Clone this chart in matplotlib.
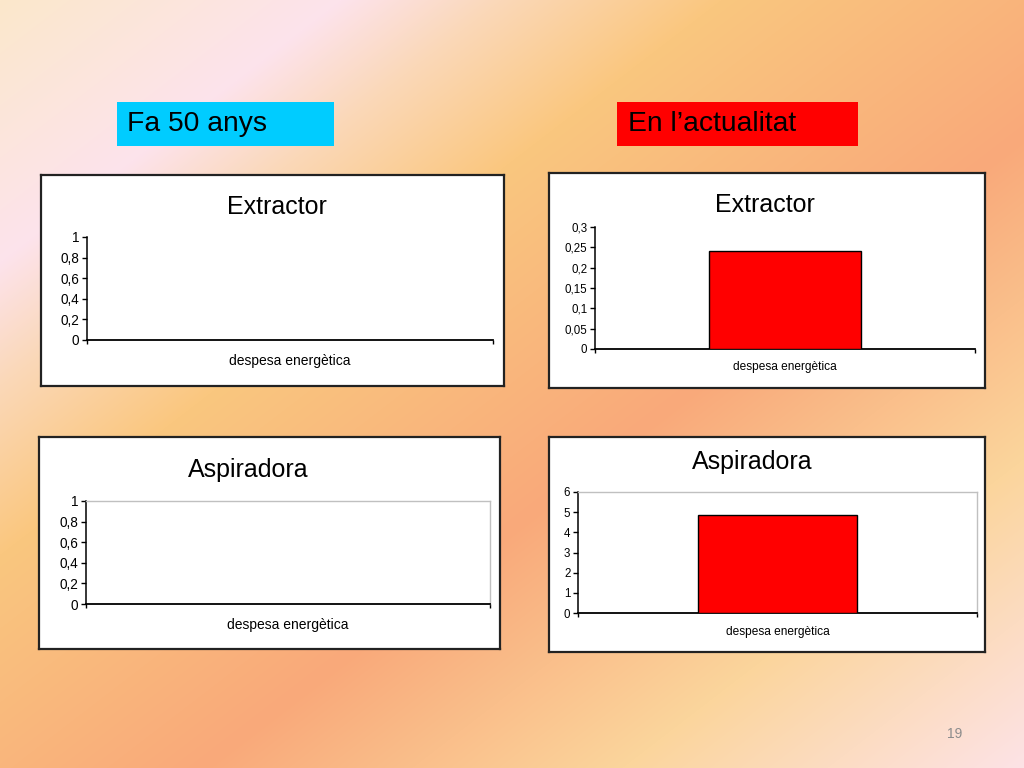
import numpy as np
import matplotlib
matplotlib.use("Agg")
import matplotlib.pyplot as plt
from matplotlib.patches import Rectangle
from matplotlib.ticker import FuncFormatter, FixedLocator
from matplotlib.colors import to_rgb

plt.rcParams['font.family'] = ['Liberation Sans', 'DejaVu Sans']

# ---------------- data ----------------
categories = ['despesa energètica']
headers = ['Fa 50 anys', 'En l\u2019actualitat']
chart_titles = ['Extractor', 'Extractor', 'Aspiradora', 'Aspiradora']
extractor_fa50 = [0]
extractor_actual = [0.24]
aspiradora_fa50 = [0]
aspiradora_actual = [4.85]
yticks_extractor_fa50 = [0, 0.2, 0.4, 0.6, 0.8, 1]
yticks_extractor_actual = [0, 0.05, 0.1, 0.15, 0.2, 0.25, 0.3]
yticks_aspiradora_fa50 = [0, 0.2, 0.4, 0.6, 0.8, 1]
yticks_aspiradora_actual = [0, 1, 2, 3, 4, 5, 6]
page_number = '19'

W, H = 1024, 768
fig = plt.figure(figsize=(W / 100, H / 100), dpi=100)


def rect(x0, y0, x1, y1):
    return [x0 / W, 1 - y1 / H, (x1 - x0) / W, (y1 - y0) / H]


# ---------------- background gradient ----------------
bg = fig.add_axes([0, 0, 1, 1], zorder=-10)
X, Y = np.meshgrid(np.arange(W), np.arange(H))
t = X + 1.3 * Y
stops = [0, 340, 500, 720, 1200, 1620, 2030]
cols = ['#FBE8CB', '#FDE3EC', '#FAD8B8', '#FAC77F', '#F9A97A', '#FBD59C', '#FDE3E8']
rgb = np.array([to_rgb(c) for c in cols])
img = np.dstack([np.interp(t, stops, rgb[:, k]) for k in range(3)])
bg.imshow(img, extent=[0, W, H, 0], aspect='auto', interpolation='bilinear')
bg.set_xlim(0, W)
bg.set_ylim(H, 0)
bg.axis('off')

# ---------------- header boxes ----------------
header_boxes = [((117, 102, 334, 146), '#00CCFF', 127),
                ((617, 102, 858, 146), '#FF0000', 628)]
for (box, color, tx), label in zip(header_boxes, headers):
    x0, y0, x1, y1 = box
    fig.add_artist(Rectangle((x0 / W, 1 - y1 / H), (x1 - x0) / W, (y1 - y0) / H,
                             transform=fig.transFigure, facecolor=color,
                             edgecolor='none', zorder=1))
    fig.text(tx / W, 1 - ((y0 + y1) / 2) / H, label, ha='left', va='center',
             fontsize=20.3, color='black', zorder=2)

# ---------------- charts ----------------
fmt = FuncFormatter(lambda v, p: ('%g' % v).replace('.', ','))

charts = [
    dict(frame=(41, 175, 504, 386), plot=(87, 237, 493, 340), title=(277, 207),
         values=extractor_fa50, yticks=yticks_extractor_fa50, gray=False,
         fs=9.8, xfs=10, pad=10),
    dict(frame=(549, 173, 985, 388), plot=(595, 227, 975, 349), title=(765, 205),
         values=extractor_actual, yticks=yticks_extractor_actual, gray=False,
         fs=8.3, xfs=8.6, pad=9),
    dict(frame=(39, 437, 500, 649), plot=(86, 501, 490, 604), title=(248, 470),
         values=aspiradora_fa50, yticks=yticks_aspiradora_fa50, gray=True,
         fs=9.8, xfs=10, pad=10),
    dict(frame=(549, 437, 985, 652), plot=(578, 492, 977, 613), title=(752, 462),
         values=aspiradora_actual, yticks=yticks_aspiradora_actual, gray=True,
         fs=8.3, xfs=8.6, pad=9),
]

for c, title in zip(charts, chart_titles):
    fr = fig.add_axes(rect(*c['frame']), zorder=3)
    fr.set_facecolor('white')
    fr.set_xticks([])
    fr.set_yticks([])
    for s in fr.spines.values():
        s.set_color('#222222')
        s.set_linewidth(1.6)

    ax = fig.add_axes(rect(*c['plot']), zorder=4)
    ax.patch.set_alpha(0)
    x = np.arange(len(categories))
    vals = np.array(c['values'], dtype=float)
    ax.bar(x, vals, width=0.40, color='#FF0000',
           edgecolor=['black' if v > 0 else 'none' for v in vals], linewidth=1.0, zorder=3)
    ax.set_xlim(-0.5, len(categories) - 0.5)
    ax.set_ylim(c['yticks'][0], c['yticks'][-1])
    ax.yaxis.set_major_locator(FixedLocator(c['yticks']))
    ax.yaxis.set_major_formatter(fmt)
    ax.set_xticks(x)
    ax.set_xticklabels(categories)
    ax.set_xticks(np.arange(len(categories) + 1) - 0.5, minor=True)
    ax.tick_params(axis='x', which='major', length=0, pad=c['pad'], labelsize=c['xfs'])
    ax.tick_params(axis='x', which='minor', length=3, width=1, direction='out', color='black')
    ax.tick_params(axis='y', which='major', length=3.5, width=1, direction='out',
                   color='black', labelsize=c['fs'], pad=2)
    ax.spines['left'].set_color('black')
    ax.spines['bottom'].set_color('black')
    ax.spines['left'].set_linewidth(1.1)
    ax.spines['bottom'].set_linewidth(1.3)
    if c['gray']:
        ax.spines['top'].set_color('#C0C0C0')
        ax.spines['right'].set_color('#C0C0C0')
        ax.spines['top'].set_linewidth(1.0)
        ax.spines['right'].set_linewidth(1.0)
    else:
        ax.spines['top'].set_visible(False)
        ax.spines['right'].set_visible(False)

    tx, ty = c['title']
    fig.text(tx / W, 1 - ty / H, title, ha='center', va='center', fontsize=18,
             color='black', zorder=5)

fig.text(955 / W, 1 - 734 / H, page_number, ha='center', va='center',
         fontsize=10, color='#8C8C8C')

fig.savefig('out.png', dpi=100)
